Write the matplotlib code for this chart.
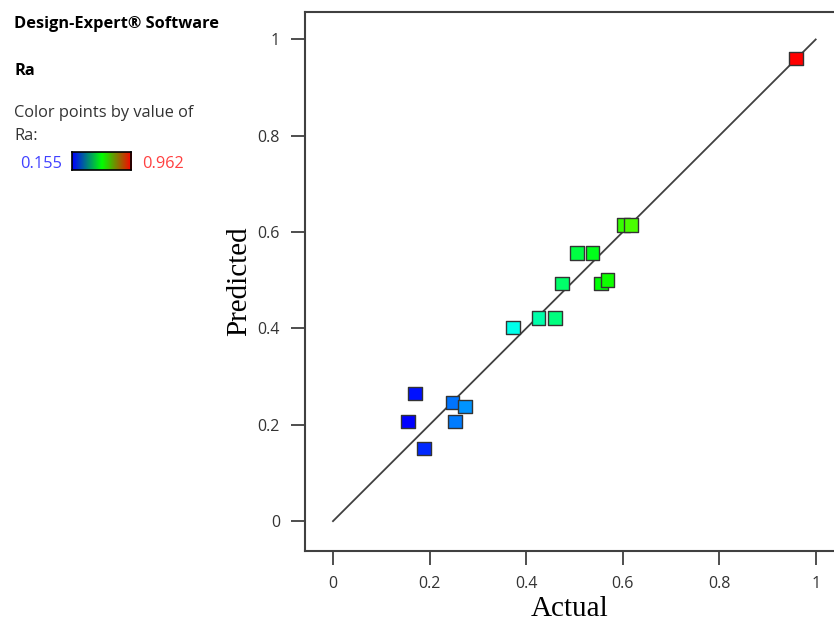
import numpy as np
import matplotlib
matplotlib.use("Agg")
import matplotlib.pyplot as plt
from matplotlib.colors import LinearSegmentedColormap, Normalize

# actual vs predicted Ra values
actual = [0.959, 0.505, 0.538, 0.602, 0.617, 0.474, 0.555, 0.569, 0.426, 0.460,
          0.373, 0.170, 0.248, 0.273, 0.155, 0.253, 0.188]
predicted = [0.960, 0.557, 0.557, 0.615, 0.615, 0.493, 0.493, 0.501, 0.422, 0.422,
             0.402, 0.265, 0.246, 0.238, 0.207, 0.207, 0.151]
ra_min, ra_max = 0.155, 0.962
ticks = [0, 0.2, 0.4, 0.6, 0.8, 1]
tick_labels = ["0", "0.2", "0.4", "0.6", "0.8", "1"]

# hue-style map used for points, rgb ramp for the little legend bar
point_cmap = LinearSegmentedColormap.from_list(
    "de", [(0, "#0000ff"), (0.25, "#00ffff"), (0.5, "#00ff00"), (0.75, "#ffff00"), (1, "#ff0000")])
bar_cmap = LinearSegmentedColormap.from_list("bar", ["#0000ff", "#00ff00", "#ff0000"])
norm = Normalize(ra_min, ra_max)

fig = plt.figure(figsize=(8.34, 6.22), dpi=100)
ax = fig.add_axes([305 / 834, (622 - 551) / 622, 530 / 834, (551 - 12) / 622])

ax.plot([0, 1], [0, 1], color="#404040", lw=1.3, zorder=1)
ax.scatter(actual, predicted, c=[point_cmap(norm(v)) for v in actual], marker="s",
           s=95, edgecolors="#333333", linewidths=1.0, zorder=3)

ax.set_xlim(-0.058, 1.04)
ax.set_ylim(-0.062, 1.057)
ax.set_xticks(ticks, tick_labels)
ax.set_yticks(ticks, tick_labels)
ax.tick_params(direction="out", length=10, width=1.3, color="#404040",
               labelsize=11.5, labelcolor="#333333", pad=8)
for lab in ax.get_xticklabels() + ax.get_yticklabels():
    lab.set_family("Open Sans")
for side in ["left", "bottom", "top"]:
    ax.spines[side].set_linewidth(1.5)
    ax.spines[side].set_color("#404040")
ax.spines["right"].set_visible(False)

ax.set_xlabel("Actual", family="Liberation Serif", fontsize=21, labelpad=3)
ax.set_ylabel("Predicted", family="Liberation Serif", fontsize=21, labelpad=4)

# side legend
fs = 11.8
fig.text(14 / 834, 1 - 28 / 622, "Design-Expert\u00ae Software", fontsize=fs,
         weight="bold", family="Open Sans", va="baseline")
fig.text(14 / 834, 1 - 75 / 622, "Ra", fontsize=fs, weight="bold",
         family="Open Sans", va="baseline")
fig.text(14 / 834, 1 - 117 / 622, "Color points by value of", fontsize=fs,
         family="Open Sans", va="baseline", color="#333333")
fig.text(14 / 834, 1 - 140 / 622, "Ra:", fontsize=fs,
         family="Open Sans", va="baseline", color="#333333")
fig.text(20 / 834, 1 - 168 / 622, "0.155", fontsize=fs, family="Open Sans",
         color="#4040ff", va="baseline")
fig.text(142 / 834, 1 - 168 / 622, "0.962", fontsize=fs, family="Open Sans",
         color="#ff4040", va="baseline")
bar_ax = fig.add_axes([72 / 834, 1 - 170 / 622, 59 / 834, 18 / 622])
bar_ax.imshow(np.linspace(0, 1, 100)[None, :], cmap=bar_cmap, aspect="auto")
bar_ax.set_xticks([])
bar_ax.set_yticks([])
for s in bar_ax.spines.values():
    s.set_linewidth(1.2)

fig.savefig("out.png", dpi=100)
